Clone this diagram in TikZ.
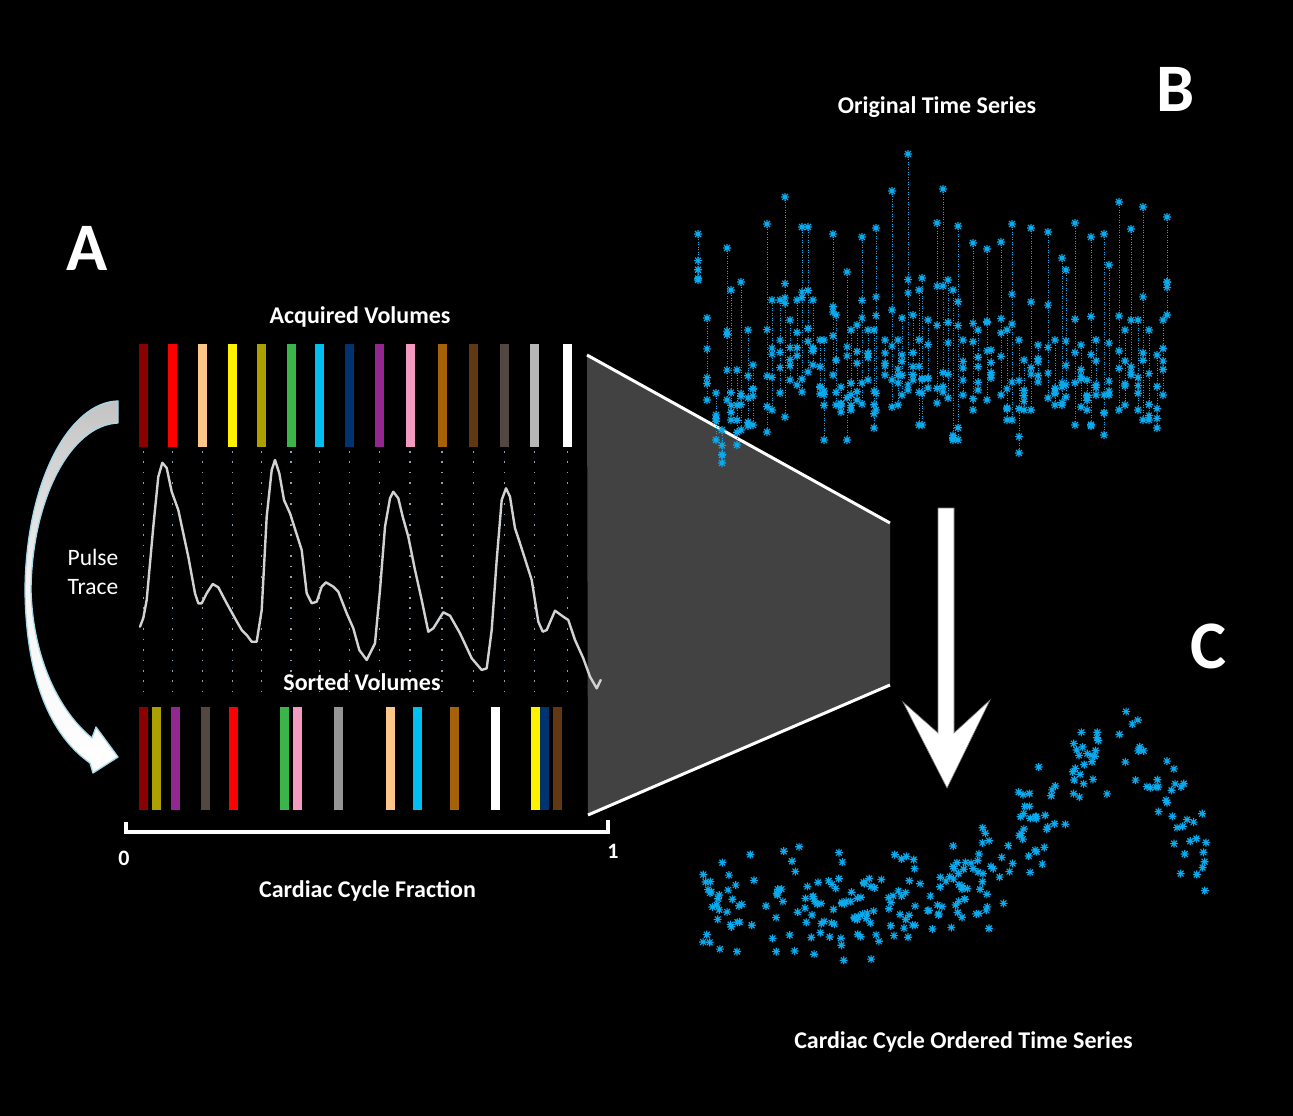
\documentclass[tikz,border=0pt]{standalone}
\usepackage{fontspec}
\setmainfont{Carlito}
\definecolor{cA}{RGB}{139,0,0}
\definecolor{cB}{RGB}{255,0,0}
\definecolor{cC}{RGB}{253,198,137}
\definecolor{cD}{RGB}{255,242,0}
\definecolor{cE}{RGB}{171,160,0}
\definecolor{cF}{RGB}{57,181,74}
\definecolor{cG}{RGB}{0,191,243}
\definecolor{cH}{RGB}{0,52,113}
\definecolor{cI}{RGB}{146,39,143}
\definecolor{cJ}{RGB}{244,154,193}
\definecolor{cK}{RGB}{166,98,10}
\definecolor{cL}{RGB}{96,57,19}
\definecolor{cM}{RGB}{83,71,65}
\definecolor{cN}{RGB}{183,183,183}
\definecolor{cO}{RGB}{255,255,255}
\definecolor{cP}{RGB}{149,149,149}
\definecolor{starblue}{RGB}{10,170,238}
\definecolor{gridc}{RGB}{140,160,180}
\definecolor{tracec}{RGB}{210,210,210}
\definecolor{trapc}{RGB}{66,66,66}
\definecolor{arrowblue}{RGB}{165,215,232}
\definecolor{arrowgray}{RGB}{195,195,195}
\tikzset{
  ast/.pic={\draw[line width=1.15pt, draw=starblue, line cap=butt]
     (-4,0)--(4,0) (0,-4)--(0,4) (-2.9,-2.9)--(2.9,2.9) (-2.9,2.9)--(2.9,-2.9);},
  lbl/.style={text=white, font=\bfseries\fontsize{24}{28}\selectfont, inner sep=0pt, anchor=base},
  biglbl/.style={text=white, font=\bfseries\fontsize{68}{76}\selectfont, inner sep=0pt, anchor=base},
  plainlbl/.style={text=white, font=\fontsize{23.5}{28}\selectfont, inner sep=0pt, anchor=base},
  bdot/.style={draw=starblue, line width=0.9pt, dash pattern=on 0.9pt off 1.6pt},
  gdot/.style={draw=gridc, line width=1.5pt, dash pattern=on 1.5pt off 8.93pt},
  edgewhite/.style={draw=white, line width=3pt},
}
\begin{document}
\begin{tikzpicture}[x=1pt,y=-1pt]
\fill[black] (0,0) rectangle (1293,1116);
\useasboundingbox (0,0) rectangle (1293,1116);
\pgfmathsetseed{11}

% ---------- funnel (trapezoid) ----------
\coordinate (tl) at (587,355);
\coordinate (tr) at (890,523);
\coordinate (br) at (890,685);
\coordinate (bl) at (588,815);
\fill[trapc] (tl) -- (tr) -- (br) -- (bl) -- cycle;
\draw[edgewhite] (tl) -- (tr);
\draw[edgewhite] (bl) -- (br);

% ---------- grid dots ----------
\foreach \gx in {143.4,172.4,202.4,232.4,261.4,291.2,319.4,349.4,379.4,410.2,442.2,473.4,504.4,534.4,567.6}
  \draw[gdot] (\gx,451) -- (\gx,700);

% ---------- acquired volumes ----------
\foreach \xl/\c in {139/cA,168/cB,198/cC,228/cD,257/cE,287/cF,315/cG,345/cH,375/cI,406/cJ,438/cK,469/cL,500/cM,530/cN,563/cO}
  \fill[\c] (\xl,344) rectangle ++(9,103);

% ---------- sorted volumes ----------
\foreach \xl/\c in {139/cA,152/cE,171/cI,201/cM,229/cB,280/cF,293/cJ,334/cP,386/cC,413/cG,450/cK,491/cO,531/cD,540/cH,553/cL}
  \fill[\c] (\xl,707) rectangle ++(9,103);

% ---------- pulse trace ----------
\draw[tracec, line width=2.4pt, line join=round, line cap=round]
 (140,626.7) -- (143.3,618) -- (146.7,600) -- (153.3,526.7) -- (158.3,476.7) -- (162.3,462.7)
 -- (166.7,468) -- (171.7,491.7) -- (178.3,510) -- (188.3,556.7) -- (195,593.3) -- (198.3,603.3)
 -- (201.7,603.3) -- (206.7,593.3) -- (212.7,584) -- (218.3,587.3) -- (226.7,603.3) -- (235,618.3)
 -- (241.7,630) -- (246.7,635) -- (251.7,641.7) -- (256.7,641.7) -- (261.7,610) -- (266.7,516.7)
 -- (271.7,470) -- (275,460) -- (279.3,473.3) -- (284,500) -- (290,513.3) -- (301.7,550)
 -- (306.7,593.3) -- (311.7,603.3) -- (316.7,601.7) -- (321.7,586.7) -- (326,582.3) -- (333.3,586.7)
 -- (338.3,591.7) -- (346.7,613.3) -- (353.3,628.3) -- (359.3,650) -- (366.7,660) -- (375,643.3)
 -- (380,590) -- (385,526.7) -- (390,498.3) -- (393.3,491.7) -- (398.3,498.3) -- (402.7,516.7)
 -- (408.3,536.7) -- (415,570) -- (421.7,600) -- (428.3,631.7) -- (433.3,628.3) -- (443.3,612.3)
 -- (450,615.7) -- (460,633.3) -- (471.7,658.3) -- (481.7,670) -- (486.7,668.3) -- (491.7,630)
 -- (496.7,560) -- (501.7,500) -- (506,488.3) -- (510,496.7) -- (515,528.3) -- (520,543.3)
 -- (531.7,580) -- (538.3,621.7) -- (542.7,631.7) -- (546.7,630) -- (555,610.7) -- (563.3,616.7)
 -- (568.3,620) -- (575,640) -- (583.3,658.3) -- (590,676.7) -- (596.7,688.3) -- (600.7,680);

% ---------- bracket ----------
\draw[white, line width=3.2pt] (126,822) -- (126,832) -- (608,832) -- (608,820);

% ---------- curved arrow (pulse trace) ----------
\path[draw=arrowblue, line width=1.3pt, line join=round, top color=arrowgray, bottom color=white, middle color=white!92!gray]
  (118,401) .. controls (70,402) and (26,480) .. (25,590)
  .. controls (26,678) and (50,735) .. (90,763)
  -- (93,773) -- (118,757) -- (96,727) -- (92,738)
  .. controls (60,712) and (33,660) .. (31,590)
  .. controls (32,500) and (70,425) .. (118,423) -- cycle;

% ---------- B: original time series ----------
\foreach \cx/\t/\b in {
 698/234/280, 707/318/400, 716/393/440, 722/430/463, 727/248/400, 731/290/420, 737/370/445,
 741/282/430, 748/330/426, 753/365/425, 767/224/432, 772/300/410, 780/300/393, 785/197/417,
 790/320/380, 797/300/385, 802/227/392, 808/227/372, 813/300/365, 820/340/394, 824/340/440,
 833/234/375, 836/315/405, 841/387/412, 847/272/440, 851/330/410, 857/325/400, 862/237/404,
 868/330/380, 874/330/428, 876/228/410, 885/340/375, 892/191/407, 898/340/405, 902/318/395,
 908/154/390, 913/315/380, 919/290/425, 922/278/425, 928/320/388, 937/223/403, 943/189/392,
 948/280/398, 953/290/440, 958/226/440, 963/340/395, 973/243/410, 978/330/390, 987/249/400,
 991/350/378, 1001/242/395, 1007/330/420, 1012/224/420, 1019/340/453, 1024/360/410, 1031/228/410,
 1038/345/382, 1048/232/398, 1055/340/405, 1062/258/405, 1066/270/397, 1075/223/425, 1081/345/407,
 1087/380/410, 1091/237/426, 1096/340/395, 1104/234/435, 1109/265/395, 1119/202/410, 1125/330/405,
 1131/229/375, 1138/320/410, 1143/207/420, 1149/330/420, 1157/355/428, 1163/320/395, 1167/217/315}
{
  \draw[bdot] (\cx,\t) -- (\cx,\b);
  \pic at (\cx,\t) {ast};
  \pic at (\cx,\b) {ast};
  \foreach \k in {1,2,3} {
    \pgfmathsetmacro\yy{\t+(\b-\t)*(0.35+0.65*rnd)}
    \pic at (\cx,\yy) {ast};
  }
}

% ---------- C: cardiac cycle ordered ----------
\foreach \k in {1,...,280} {
  \pgfmathsetmacro\xx{700+510*rnd}
  \pgfmathsetmacro\dd{min(((\xx-1110)/90)^2,12)}
  \pgfmathsetmacro\yy{908-165*exp(-\dd)+62*(rnd+rnd-1)}
  \pic at (\xx,\yy) {ast};
}

% ---------- big down arrow ----------
\fill[white, draw=gray, line width=0.6pt, line join=miter]
  (938,508) -- (954,508) -- (954,733) -- (990,700) -- (947,788) -- (903,702) -- (938,733) -- cycle;

% ---------- labels ----------
\node[biglbl] (lblA) at (87,270) {A};
\node[biglbl] (lblB) at (1176,111.5) {B};
\node[biglbl] (lblC) at (1208,668) {C};
\node[lbl] (acq) at (360,323.5) {Acquired Volumes};
\node[lbl] (orig) at (937,113.5) {Original Time Series};
\node[lbl] (sorted) at (362,690.5) {Sorted Volumes};
\node[lbl] (frac) at (367.5,897.5) {Cardiac Cycle Fraction};
\node[lbl, font=\bfseries\fontsize{22}{26}\selectfont] (zero) at (124,865) {0};
\node[lbl, font=\bfseries\fontsize{22}{26}\selectfont] (one) at (613,858.5) {1};
\node[lbl] (ordered) at (963.5,1048) {Cardiac Cycle Ordered Time Series};
\node[plainlbl] (pulse) at (93,565) {Pulse};
\node[plainlbl] (trace) at (93,594) {Trace};
\end{tikzpicture}
\end{document}
